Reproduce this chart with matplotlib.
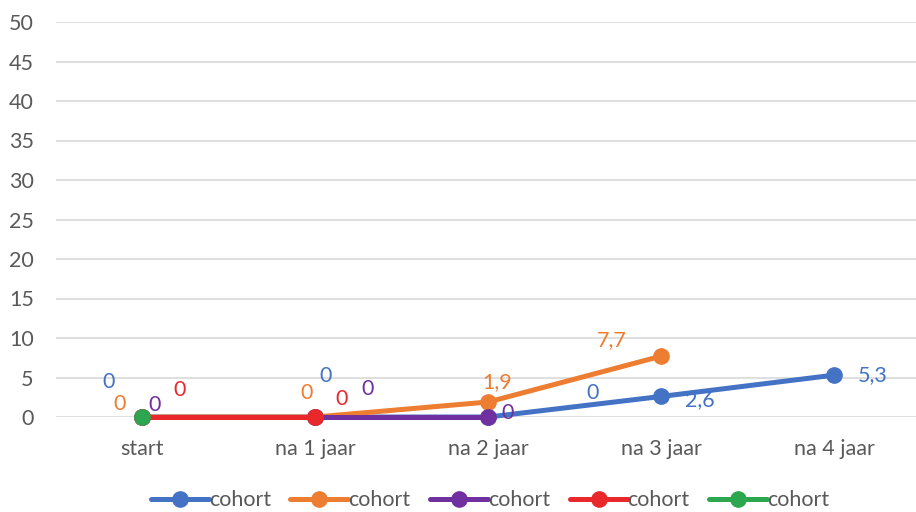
import matplotlib.pyplot as plt

plt.rcParams["font.family"] = ["Lato", "DejaVu Sans"]

categories = ["start", "na 1 jaar", "na 2 jaar", "na 3 jaar", "na 4 jaar"]
series_names = ["cohort", "cohort", "cohort", "cohort", "cohort"]
blue_values = [0, 0, 0, 2.6, 5.3]
orange_values = [0, 0, 1.9, 7.7]
purple_values = [0, 0, 0]
red_values = [0, 0]
green_values = [0]
y_ticks = [0, 5, 10, 15, 20, 25, 30, 35, 40, 45, 50]

colors = ["#4472C4", "#ED7D31", "#7030A0", "#E8282B", "#2CA64F"]

# data label offsets in pixels (dx, dy), one per point
label_offsets = [
    [(-34, 35), (10, 41), (104, 24), (39, -4), (39, 0)],
    [(-23, 13), (-9, 24), (9, 20), (-49, 16)],
    [(12, 12), (52, 28), (19, 4)],
    [(37, 27), (26, 18)],
    [None],
]

all_series = [blue_values, orange_values, purple_values, red_values, green_values]


def fmt(v):
    if v == int(v):
        return str(int(v))
    return f"{v:.1f}".replace(".", ",")


fig = plt.figure(figsize=(9.16, 5.12), dpi=100)
ax = fig.add_axes([56 / 916, 95 / 512, 860 / 916, 395 / 512])

for values, name, color, offs in zip(all_series, series_names, colors, label_offsets):
    xs = list(range(len(values)))
    ax.plot(xs, values, color=color, lw=3.6, marker="o", markersize=11,
            solid_capstyle="round", label=name, clip_on=False)
    for x, v, off in zip(xs, values, offs):
        if off is None:
            continue
        ax.annotate(fmt(v), (x, v), xytext=off, textcoords="offset pixels",
                    ha="center", va="center", color=color, fontsize=15.5)

ax.set_xlim(-0.5, 4 + 82 / 173)
ax.set_ylim(0, 50)
ax.set_yticks(y_ticks)
ax.set_xticks(range(len(categories)))
ax.set_xticklabels(categories)
ax.grid(axis="y", color="#D9D9D9", lw=1.2)
ax.set_axisbelow(True)
for s in ax.spines.values():
    s.set_visible(False)
ax.tick_params(axis="both", length=0, labelsize=15.5, colors="#595959")
ax.tick_params(axis="y", pad=16)
ax.tick_params(axis="x", pad=16)

ax.legend(loc="lower center", bbox_to_anchor=(490 / 916, -9 / 512), bbox_transform=fig.transFigure,
          ncol=5, frameon=False, fontsize=15.5, handlelength=2.7, handletextpad=0.0,
          columnspacing=0.9, labelcolor="#595959", borderaxespad=0.1)

fig.savefig("out.png", dpi=100)
